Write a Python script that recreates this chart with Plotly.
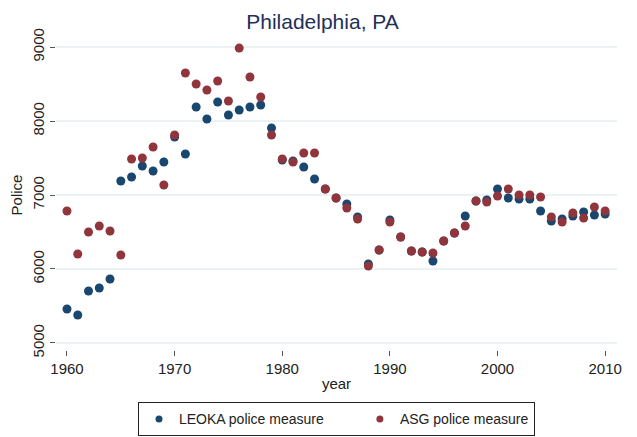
import plotly.graph_objects as go

years = list(range(1960, 2011))

leoka = [5459, 5378, 5703, 5743, 5865, 7189, 7243, 7392, 7324, 7446,
         7784, 7554, 8189, 8027, 8257, 8081, 8149, 8189, 8216, 7905,
         7473, 7459, 7378, 7216, 7081, 6959, 6878, 6703, 6068, 6257,
         6662, 6432, 6243, 6230, 6108, 6378, 6486, 6716, 6919, 6932,
         7081, 6959, 6946, 6946, 6784, 6649, 6676, 6716, 6770, 6730,
         6743]

asg = [6784, 6203, 6500, 6581, 6514, 6189, 7486, 7500, 7649, 7135,
       7811, 8649, 8500, 8419, 8541, 8270, 8986, 8595, 8324, 7811,
       7486, 7446, 7568, 7568, 7081, 6959, 6824, 6676, 6040, 6257,
       6635, 6432, 6243, 6230, 6216, 6378, 6486, 6581, 6919, 6905,
       6986, 7081, 7000, 7000, 6973, 6703, 6635, 6757, 6689, 6838,
       6784]

x_ticks = [1960, 1970, 1980, 1990, 2000, 2010]
y_ticks = [5000, 6000, 7000, 8000, 9000]

font = 'Liberation Sans, Arial, sans-serif'
series = [('LEOKA police measure', leoka, '#1a476f'),
          ('ASG police measure', asg, '#90353b')]

fig = go.Figure()
for name, vals, col in series:
    fig.add_trace(go.Scatter(x=years, y=vals, mode='markers', name=name, showlegend=False,
                             marker=dict(color=col, size=9)))
# legend-only entries with the smaller key symbol; nbsp padding widens the gap between keys
for i, (name, vals, col) in enumerate(series):
    label = name + '\u00a0' * 8 if i == 0 else name
    fig.add_trace(go.Scatter(x=[None], y=[None], mode='markers', name=label,
                             marker=dict(color=col, size=7)))

# the page body adds an 8px margin, so the figure is 8px smaller than the window
fig.update_layout(
    width=629, height=429,
    paper_bgcolor='white', plot_bgcolor='white',
    font=dict(family=font, size=15, color='#222222'),
    margin=dict(l=48, r=20, t=32, b=87, autoexpand=False),
    title=dict(text='Philadelphia, PA', x=0.5, xanchor='center', y=0.985, yanchor='top',
               pad=dict(t=0, b=0), font=dict(size=21, color='#1e2f58')),
    xaxis=dict(range=[1958.98, 2011.1], tickvals=x_ticks, showgrid=False, zeroline=False,
               ticks='outside', ticklen=5, tickcolor='#555555', showline=False,
               title=dict(text='year', standoff=2, font=dict(size=15))),
    yaxis=dict(range=[4905, 9095], tickvals=y_ticks, showgrid=True, gridcolor='#eaf2f3',
               gridwidth=1.5, zeroline=False, ticks='outside', ticklen=5, tickcolor='#555555',
               showline=False, tickangle=-90,
               title=dict(text='Police', standoff=4, font=dict(size=15))),
    legend=dict(orientation='h', x=0.5, xanchor='center', y=-0.169, yanchor='top',
                bordercolor='#222222', borderwidth=1, font=dict(size=14),
                itemsizing='trace', tracegroupgap=0),
)

fig.write_html("out.html")
